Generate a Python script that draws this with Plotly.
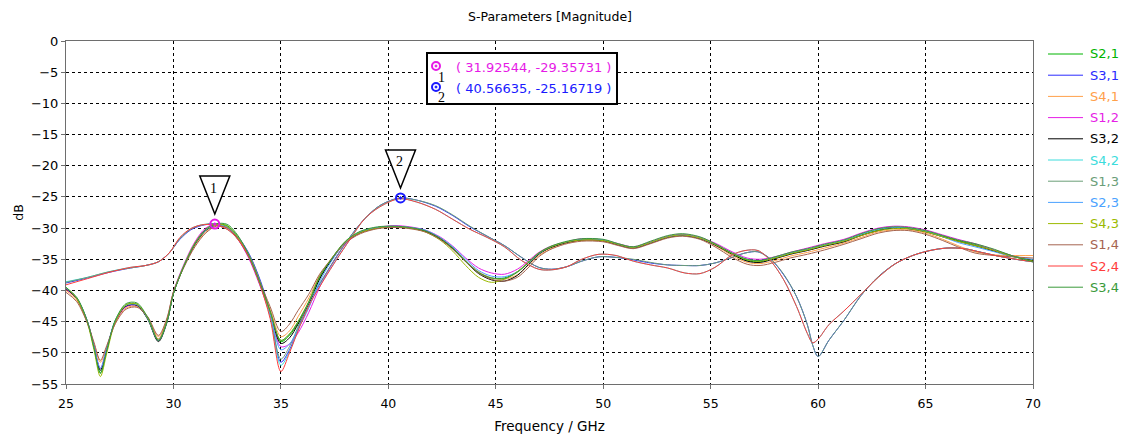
import plotly.graph_objects as go

# ---------------- data ----------------
FREQ_B = [25, 25.5, 26, 26.3, 26.6, 26.9, 27.3, 27.8, 28.3, 28.8,
          29.3, 29.7, 30, 30.5, 31, 31.5, 32, 32.5, 33, 33.5,
          34, 34.5, 35, 35.4, 35.8, 36.3, 36.8, 37.3, 38, 38.7,
          39.5, 40.3, 41, 41.7, 42.4, 43, 43.6, 44.2, 44.8, 45.4,
          46, 46.5, 47, 47.5, 48.2, 49, 50, 50.7, 51.4, 52.2,
          53, 53.7, 54.5, 55.2, 56, 56.7, 57.3, 58, 58.7, 59.5,
          60.3, 61.2, 62, 62.8, 63.5, 64.2, 65, 65.8, 66.5, 67.3,
          68.2, 69, 70]

S21 = [-39.6, -41.2, -45.0, -49.0, -53.2, -49.5, -44.8, -42.3, -42.2, -44.5,
       -48.0, -45.0, -40.5, -36.0, -32.5, -30.3, -29.4, -29.6, -31.4, -34.4,
       -38.6, -43.4, -48.2, -47.2, -45.2, -42.0, -38.0, -35.3, -32.2, -30.6,
       -29.9, -29.7, -29.9, -30.4, -31.6, -33.2, -35.3, -37.1, -38.0, -38.0,
       -37.0, -35.6, -34.1, -33.2, -32.4, -31.9, -32.0, -32.6, -33.1, -32.3,
       -31.4, -31.1, -31.6, -32.6, -34.1, -35.2, -35.4, -34.8, -34.1, -33.5,
       -32.8, -32.1, -31.1, -30.3, -29.9, -30.0, -30.5, -31.3, -32.0, -32.6,
       -33.6, -34.4, -35.2]
S12 = [-39.8, -41.3, -45.0, -48.8, -52.5, -49.2, -45.0, -42.6, -42.4, -44.4,
       -47.8, -44.8, -40.2, -35.7, -32.2, -30.0, -29.37, -29.9, -31.8, -34.8,
       -39.0, -43.8, -49.0, -48.6, -46.8, -43.5, -39.5, -36.2, -32.6, -30.7,
       -29.9, -29.6, -29.8, -30.3, -31.4, -32.9, -34.8, -36.4, -37.2, -37.4,
       -36.6, -35.3, -33.9, -33.0, -32.3, -31.7, -31.9, -32.5, -33.0, -32.2,
       -31.3, -31.0, -31.5, -32.4, -33.8, -34.8, -35.0, -34.6, -33.9, -33.2,
       -32.5, -31.8, -30.8, -30.0, -29.7, -29.8, -30.3, -31.1, -31.8, -32.5,
       -33.5, -34.4, -35.3]
S41 = [-40.0, -41.6, -45.2, -48.5, -51.5, -49.0, -45.2, -42.8, -42.6, -44.3,
       -47.4, -44.6, -40.3, -36.1, -32.8, -30.6, -29.6, -29.9, -31.7, -34.6,
       -38.7, -43.0, -47.4, -46.5, -44.2, -41.2, -37.6, -35.1, -32.3, -30.8,
       -30.0, -29.8, -30.0, -30.5, -31.7, -33.3, -35.3, -37.0, -38.0, -38.2,
       -37.5, -36.0, -34.4, -33.4, -32.5, -32.0, -32.1, -32.7, -33.2, -32.4,
       -31.5, -31.2, -31.7, -32.8, -34.4, -35.5, -35.7, -35.2, -34.5, -33.9,
       -33.2, -32.4, -31.5, -30.6, -30.3, -30.3, -30.8, -31.8, -32.8, -33.8,
       -34.3, -34.4, -34.4]
S14 = [-40.3, -41.8, -45.3, -48.3, -51.2, -48.8, -45.3, -43.0, -42.7, -44.2,
       -47.2, -44.4, -40.2, -36.2, -33.0, -30.8, -29.7, -30.0, -31.8, -34.6,
       -38.5, -42.6, -46.6, -45.4, -43.2, -40.6, -37.4, -35.2, -32.4, -30.9,
       -30.1, -29.9, -30.1, -30.6, -31.8, -33.4, -35.4, -37.2, -38.2, -38.5,
       -37.9, -36.4, -34.6, -33.5, -32.6, -32.1, -32.2, -32.8, -33.3, -32.5,
       -31.6, -31.3, -31.8, -33.0, -34.7, -35.8, -36.0, -35.5, -34.8, -34.2,
       -33.5, -32.6, -31.7, -30.8, -30.4, -30.4, -31.0, -32.0, -33.0, -34.0,
       -34.4, -34.6, -34.8]
S32 = [-39.7, -41.3, -45.1, -49.0, -52.8, -49.4, -44.9, -42.5, -42.4, -44.6,
       -48.2, -45.1, -40.5, -36.0, -32.6, -30.4, -29.5, -29.8, -31.6, -34.5,
       -38.7, -43.5, -48.5, -47.6, -45.4, -42.2, -38.2, -35.4, -32.3, -30.7,
       -30.0, -29.8, -30.0, -30.5, -31.7, -33.3, -35.4, -37.3, -38.3, -38.5,
       -37.6, -35.9, -34.2, -33.2, -32.4, -31.9, -32.0, -32.7, -33.2, -32.4,
       -31.5, -31.2, -31.7, -32.7, -34.2, -35.3, -35.5, -34.9, -34.2, -33.6,
       -32.9, -32.2, -31.2, -30.4, -30.0, -30.1, -30.6, -31.4, -32.1, -32.8,
       -33.7, -34.5, -35.2]
S23 = [-39.6, -41.2, -45.0, -48.9, -52.5, -49.2, -44.8, -42.4, -42.3, -44.5,
       -48.0, -45.0, -40.4, -35.9, -32.5, -30.3, -29.5, -29.8, -31.5, -34.5,
       -38.8, -43.8, -49.5, -48.6, -46.2, -42.8, -38.6, -35.6, -32.3, -30.6,
       -29.9, -29.7, -29.9, -30.3, -31.5, -33.0, -35.0, -36.8, -37.7, -37.8,
       -37.0, -35.6, -34.1, -33.1, -32.3, -31.8, -31.9, -32.6, -33.1, -32.3,
       -31.4, -31.1, -31.6, -32.6, -34.0, -35.0, -35.2, -34.7, -34.0, -33.4,
       -32.7, -32.0, -31.0, -30.2, -29.9, -30.0, -30.5, -31.4, -32.3, -33.0,
       -33.8, -34.5, -35.0]
S43 = [-39.5, -41.3, -45.3, -49.5, -53.8, -50.0, -45.0, -42.3, -42.2, -44.4,
       -47.8, -44.8, -40.3, -35.9, -32.4, -30.2, -29.4, -29.7, -31.5, -34.5,
       -38.7, -43.4, -48.0, -47.0, -45.0, -41.8, -37.8, -35.2, -32.2, -30.7,
       -30.0, -29.8, -30.0, -30.6, -31.9, -33.7, -36.0, -37.9, -38.7, -38.2,
       -37.0, -35.5, -34.0, -33.1, -32.3, -31.9, -32.0, -32.6, -33.1, -32.3,
       -31.4, -31.1, -31.6, -32.6, -34.1, -35.1, -35.3, -34.8, -34.1, -33.5,
       -32.8, -32.1, -31.2, -30.4, -30.1, -30.1, -30.6, -31.4, -32.1, -32.8,
       -33.6, -34.5, -35.3]
S34 = [-39.5, -41.1, -45.0, -49.2, -53.3, -49.6, -44.7, -42.1, -42.0, -44.3,
       -48.0, -45.0, -40.5, -36.0, -32.5, -30.2, -29.3, -29.4, -31.2, -34.3,
       -38.5, -43.3, -48.0, -47.0, -45.0, -41.8, -37.8, -35.2, -32.1, -30.5,
       -29.8, -29.7, -29.9, -30.4, -31.6, -33.2, -35.3, -37.1, -38.0, -38.1,
       -37.1, -35.6, -34.0, -33.0, -32.2, -31.7, -31.8, -32.5, -33.0, -32.1,
       -31.2, -30.9, -31.4, -32.5, -34.0, -35.0, -35.2, -34.6, -33.9, -33.3,
       -32.6, -31.9, -30.9, -30.1, -29.8, -29.9, -30.4, -31.2, -31.9, -32.5,
       -33.4, -34.4, -35.4]

FREQ_U = [25, 26, 27, 28, 28.7, 29.3, 29.8, 30.3, 30.8, 31.3,
          31.9, 32.5, 33, 33.5, 34, 34.5, 35, 35.4, 35.9, 36.4,
          37, 37.6, 38.2, 38.9, 39.6, 40.5, 41.3, 42.2, 43, 43.8,
          44.6, 45.4, 46.2, 47, 47.6, 48.3, 49, 49.8, 50.6, 51.4,
          52.2, 53, 53.8, 54.5, 55.2, 56, 56.6, 57.2, 57.8, 58.4,
          59, 59.5, 59.75, 60, 60.5, 61.2, 62, 62.8, 63.6, 64.4,
          65.2, 66, 66.8, 67.6, 68.4, 69.2, 70]

S31 = [-38.8, -38.0, -37.1, -36.4, -36.0, -35.4, -34.0, -31.8, -30.3, -29.6,
       -29.3, -29.9, -31.4, -34.0, -38.0, -43.5, -51.5, -49.5, -45.3, -41.4,
       -37.9, -34.6, -31.5, -28.5, -26.4, -25.17, -25.5, -26.5, -28.0, -29.8,
       -31.3, -32.8, -34.7, -36.3, -36.6, -36.2, -35.3, -34.6, -34.7, -35.1,
       -35.6, -35.9, -36.0, -36.0, -35.6, -34.7, -34.0, -33.8, -35.0, -37.5,
       -41.0, -45.5, -48.8, -50.6, -48.0, -44.8, -40.8, -37.8, -35.7, -34.4,
       -33.6, -33.2, -33.3, -33.9, -34.5, -35.0, -35.4]
S13 = [-38.7, -37.9, -37.0, -36.4, -36.0, -35.4, -34.0, -31.7, -30.2, -29.5,
       -29.3, -29.9, -31.5, -34.1, -38.2, -43.8, -51.0, -49.0, -45.0, -41.2,
       -37.8, -34.5, -31.5, -28.5, -26.4, -25.2, -25.5, -26.4, -27.9, -29.7,
       -31.3, -32.8, -34.7, -36.3, -36.6, -36.2, -35.3, -34.6, -34.7, -35.0,
       -35.5, -35.9, -36.0, -36.0, -35.6, -34.7, -34.0, -33.8, -35.0, -37.4,
       -41.0, -45.5, -48.8, -50.6, -48.0, -44.8, -40.8, -37.8, -35.7, -34.4,
       -33.6, -33.2, -33.3, -33.9, -34.5, -35.0, -35.4]
S42 = [-38.6, -37.9, -37.0, -36.3, -36.0, -35.4, -34.0, -31.6, -30.1, -29.5,
       -29.5, -30.2, -31.8, -34.5, -38.7, -44.2, -52.0, -49.8, -45.5, -41.7,
       -38.2, -35.0, -31.9, -28.5, -26.6, -25.3, -25.8, -27.0, -28.6, -30.2,
       -31.5, -33.0, -35.2, -36.6, -36.7, -36.2, -35.0, -34.2, -34.4, -35.3,
       -35.9, -36.4, -37.2, -37.3, -36.3, -34.3, -33.6, -33.6, -35.3, -38.3,
       -42.6, -46.9, -48.4, -47.8, -45.5, -43.3, -40.6, -37.9, -35.7, -34.4,
       -33.6, -33.2, -33.3, -33.9, -34.5, -35.0, -35.4]
S24 = [-39.1, -38.1, -37.1, -36.3, -36.0, -35.4, -34.0, -31.5, -30.1, -29.5,
       -29.5, -30.2, -31.8, -34.5, -38.8, -44.5, -53.0, -50.0, -45.6, -41.8,
       -38.3, -35.0, -31.9, -28.5, -26.6, -25.3, -25.8, -27.0, -28.6, -30.2,
       -31.5, -33.0, -35.2, -36.6, -36.7, -36.2, -35.0, -34.2, -34.4, -35.3,
       -35.9, -36.4, -37.2, -37.3, -36.3, -34.3, -33.6, -33.6, -35.3, -38.3,
       -42.6, -46.9, -48.4, -47.8, -45.5, -43.3, -40.6, -37.9, -35.7, -34.4,
       -33.6, -33.2, -33.3, -33.9, -34.5, -35.0, -35.4]

# legend order, names, colours
SERIES = [
    ("S2,1", FREQ_B, S21, "#00b400"),
    ("S3,1", FREQ_U, S31, "#2a2aff"),
    ("S4,1", FREQ_B, S41, "#ffa04a"),
    ("S1,2", FREQ_B, S12, "#e61ee6"),
    ("S3,2", FREQ_B, S32, "#000000"),
    ("S4,2", FREQ_U, S42, "#3cdcdc"),
    ("S1,3", FREQ_U, S13, "#6a9e78"),
    ("S2,3", FREQ_B, S23, "#4aa2ff"),
    ("S4,3", FREQ_B, S43, "#9cba00"),
    ("S1,4", FREQ_B, S14, "#a66450"),
    ("S2,4", FREQ_U, S24, "#ff3c3c"),
    ("S3,4", FREQ_B, S34, "#3a9a3a"),
]

# curve markers
MARKER1_X, MARKER1_Y = 31.92544, -29.35731
MARKER2_X, MARKER2_Y = 40.56635, -25.16719
MARKER1_COLOR, MARKER2_COLOR = "#e619e6", "#1a1aff"

# ---------------- layout geometry (pixels) ----------------
W, H = 1124, 434
PL, PR, PT, PB = 66, 1033, 41, 384
PW, PH = PR - PL, PB - PT

def px_x(px):
    return (px - PL) / PW

def px_y(py):
    return (PB - py) / PH

FONT = "DejaVu Sans"

fig = go.Figure()
for name, fx, fy, col in SERIES:
    fig.add_trace(go.Scatter(
        x=fx, y=fy, mode="lines", name=name, showlegend=False,
        line=dict(color=col, width=1, shape="spline", smoothing=0.9),
        hoverinfo="skip",
    ))

# markers on the curves
for mx, my, col in [(MARKER1_X, MARKER1_Y, MARKER1_COLOR), (MARKER2_X, MARKER2_Y, MARKER2_COLOR)]:
    fig.add_trace(go.Scatter(
        x=[mx], y=[my], mode="markers", showlegend=False, hoverinfo="skip",
        marker=dict(symbol="circle-open-dot", size=9, color=col, line=dict(width=2, color=col)),
    ))

shapes = []
annotations = []

# legend column on the right: coloured line sample + coloured label
LEG_TOP, LEG_STEP = 54, 21.2
for i, (name, _, _, col) in enumerate(SERIES):
    ry = LEG_TOP + i * LEG_STEP
    shapes.append(dict(
        type="line", xref="paper", yref="paper",
        x0=px_x(1048), x1=px_x(1083), y0=px_y(ry), y1=px_y(ry),
        line=dict(color=col, width=1),
    ))
    annotations.append(dict(
        x=px_x(1088), y=px_y(ry), xref="paper", yref="paper",
        xanchor="left", yanchor="middle", text=name, showarrow=False,
        font=dict(family=FONT, size=13, color=col),
    ))

# triangular flags above the markers
for i, (mx, my) in enumerate([(MARKER1_X, MARKER1_Y), (MARKER2_X, MARKER2_Y)], start=1):
    shapes.append(dict(
        type="path", xref="x", yref="y", xsizemode="pixel", ysizemode="pixel",
        xanchor=mx, yanchor=my, path="M -15,48 L 15,48 L 0,10 Z",
        line=dict(color="black", width=1.5), fillcolor="white", layer="above",
    ))
    annotations.append(dict(
        x=mx, y=my, xref="x", yref="y", text=str(i), showarrow=False,
        yshift=36, xshift=-1, font=dict(family="Liberation Serif", size=14, color="black"),
    ))

# marker readout box
shapes.append(dict(
    type="rect", xref="paper", yref="paper",
    x0=px_x(427), x1=px_x(617), y0=px_y(104), y1=px_y(53),
    line=dict(color="black", width=2), fillcolor="white", layer="above",
))
rows = [(MARKER1_X, MARKER1_Y, MARKER1_COLOR, "1", 66),
        (MARKER2_X, MARKER2_Y, MARKER2_COLOR, "2", 87)]
for mx, my, col, lab, ry in rows:
    cx, cy = px_x(436), px_y(ry)
    shapes.append(dict(
        type="circle", xref="paper", yref="paper", xsizemode="pixel", ysizemode="pixel",
        xanchor=cx, yanchor=cy, x0=-4, x1=4, y0=-4, y1=4,
        line=dict(color=col, width=2), layer="above",
    ))
    shapes.append(dict(
        type="circle", xref="paper", yref="paper", xsizemode="pixel", ysizemode="pixel",
        xanchor=cx, yanchor=cy, x0=-1, x1=1, y0=-1, y1=1,
        line=dict(color=col, width=1), fillcolor=col, layer="above",
    ))
    annotations.append(dict(
        x=px_x(441), y=px_y(ry + 11), xref="paper", yref="paper", text=lab,
        xanchor="center", yanchor="middle",
        showarrow=False, font=dict(family="Liberation Serif", size=14, color="black"),
    ))
    annotations.append(dict(
        x=px_x(454), y=px_y(ry + 1.5), xref="paper", yref="paper",
        xanchor="left", yanchor="middle",
        text=f"( {mx:.5f}, {my:.5f} )", showarrow=False,
        font=dict(family=FONT, size=13, color=col),
    ))

fig.update_layout(
    width=W, height=H,
    margin=dict(l=PL, r=W - PR, t=PT, b=H - PB, autoexpand=False),
    paper_bgcolor="white", plot_bgcolor="white",
    font=dict(family=FONT, size=12, color="black"),
    title=dict(text="S-Parameters [Magnitude]", x=550 / W, xanchor="center",
               y=1 - 17 / H, yanchor="middle", font=dict(family=FONT, size=12.5, color="black")),
    showlegend=False,
    shapes=shapes, annotations=annotations,
)
fig.update_xaxes(
    range=[25, 70], dtick=5, tick0=25,
    showline=True, linecolor="#6e6e6e", linewidth=1, mirror=True,
    ticks="outside", ticklen=4, tickcolor="#6e6e6e", ticklabelstandoff=4,
    showgrid=True, gridcolor="black", gridwidth=1, griddash="3px,3px",
    zeroline=False, title=dict(text="Frequency / GHz", standoff=12, font=dict(size=13.5)),
    tickfont=dict(size=12.5),
)
fig.update_yaxes(
    range=[-55, 0], dtick=5, tick0=0,
    showline=True, linecolor="#6e6e6e", linewidth=1, mirror=True,
    ticks="outside", ticklen=4, tickcolor="#6e6e6e",
    showgrid=True, gridcolor="black", gridwidth=1, griddash="3px,3px",
    zeroline=False, title=dict(text="dB", standoff=4, font=dict(size=12.5)),
    tickfont=dict(size=13),
)

fig.write_html("out.html")
